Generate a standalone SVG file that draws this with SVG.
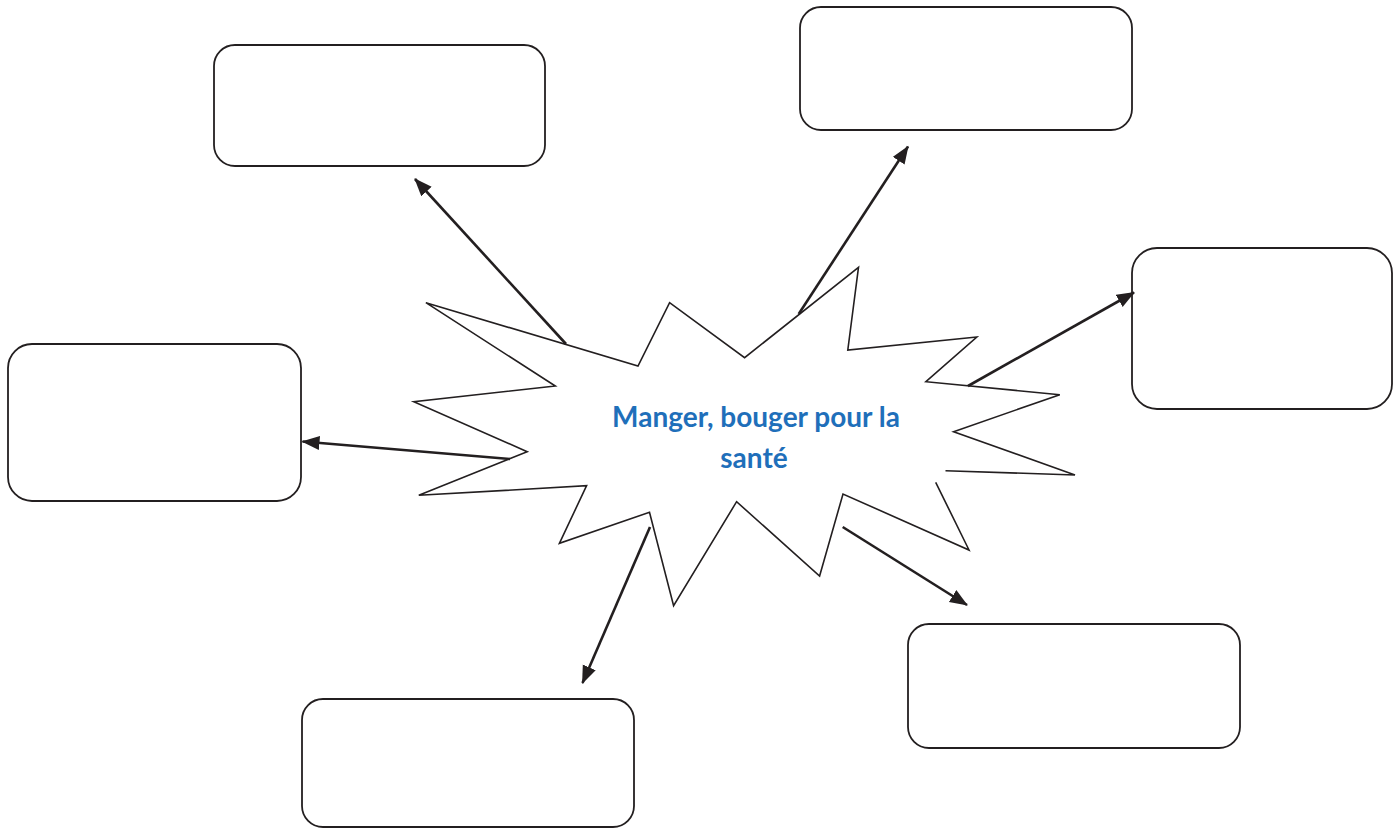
<svg xmlns="http://www.w3.org/2000/svg" width="1399" height="828" viewBox="0 0 1399 828">
<style>
.box{fill:#fff;stroke:#231f20;stroke-width:1.8}
.burst{fill:#fff;stroke:#231f20;stroke-width:1.6;stroke-linejoin:miter}
.conn{stroke:#231f20;stroke-width:2.6;fill:none;marker-end:url(#ah)}
.lbl{font-family:Lato,"Open Sans",sans-serif;font-weight:bold;font-size:28px;fill:#1f6fba;text-anchor:middle}
</style>
<defs>
<marker id="ah" markerUnits="userSpaceOnUse" markerWidth="20" markerHeight="16" refX="17" refY="7" orient="auto">
<path d="M0,0 L18,7 L0,14 Z" fill="#231f20"/>
</marker>
</defs>
<rect width="1399" height="828" fill="#fff"/>
<g id="box-top-left"><rect class="box" x="214" y="45" width="331" height="121" rx="21"/></g>
<g id="box-top-right"><rect class="box" x="800" y="7" width="332" height="123" rx="21"/></g>
<g id="box-right"><rect class="box" x="1132" y="248" width="260" height="161" rx="25"/></g>
<g id="box-left"><rect class="box" x="8" y="344" width="293" height="157" rx="24"/></g>
<g id="box-bottom"><rect class="box" x="302" y="699" width="332" height="128" rx="21"/></g>
<g id="box-bottom-right"><rect class="box" x="908" y="624" width="332" height="124" rx="21"/></g>
<g id="center">
<path class="burst" d="M945.5,470.7 L1075,475 L953.6,431.7 L1059.8,394.7 L925.9,381.7 L976.8,337 L847.8,350 L858.5,267.3 L744.6,357.7 L669.6,302.7 L638,366 L425.9,302.7 L555.3,386 L413.8,401.7 L527.2,451.7 L418.8,495.3 L586.6,485.7 L559.4,543.3 L649.5,512.3 L673.6,605.7 L736.6,501.7 L819.6,576 L843,494 L969,550 L935.7,482.3"/>
<text class="lbl" x="756" y="427">Manger, bouger pour la</text>
<text class="lbl" x="754" y="468">santé</text>
</g>
<g id="connectors">
<line class="conn" x1="566" y1="344" x2="415" y2="179"/>
<line class="conn" x1="798.7" y1="314" x2="908" y2="146.5"/>
<line class="conn" x1="968" y1="386" x2="1134" y2="292.5"/>
<line class="conn" x1="510" y1="459" x2="302.5" y2="441.5"/>
<line class="conn" x1="650" y1="527" x2="582.5" y2="683"/>
<line class="conn" x1="842.7" y1="527" x2="967" y2="605"/>
</g>
</svg>
